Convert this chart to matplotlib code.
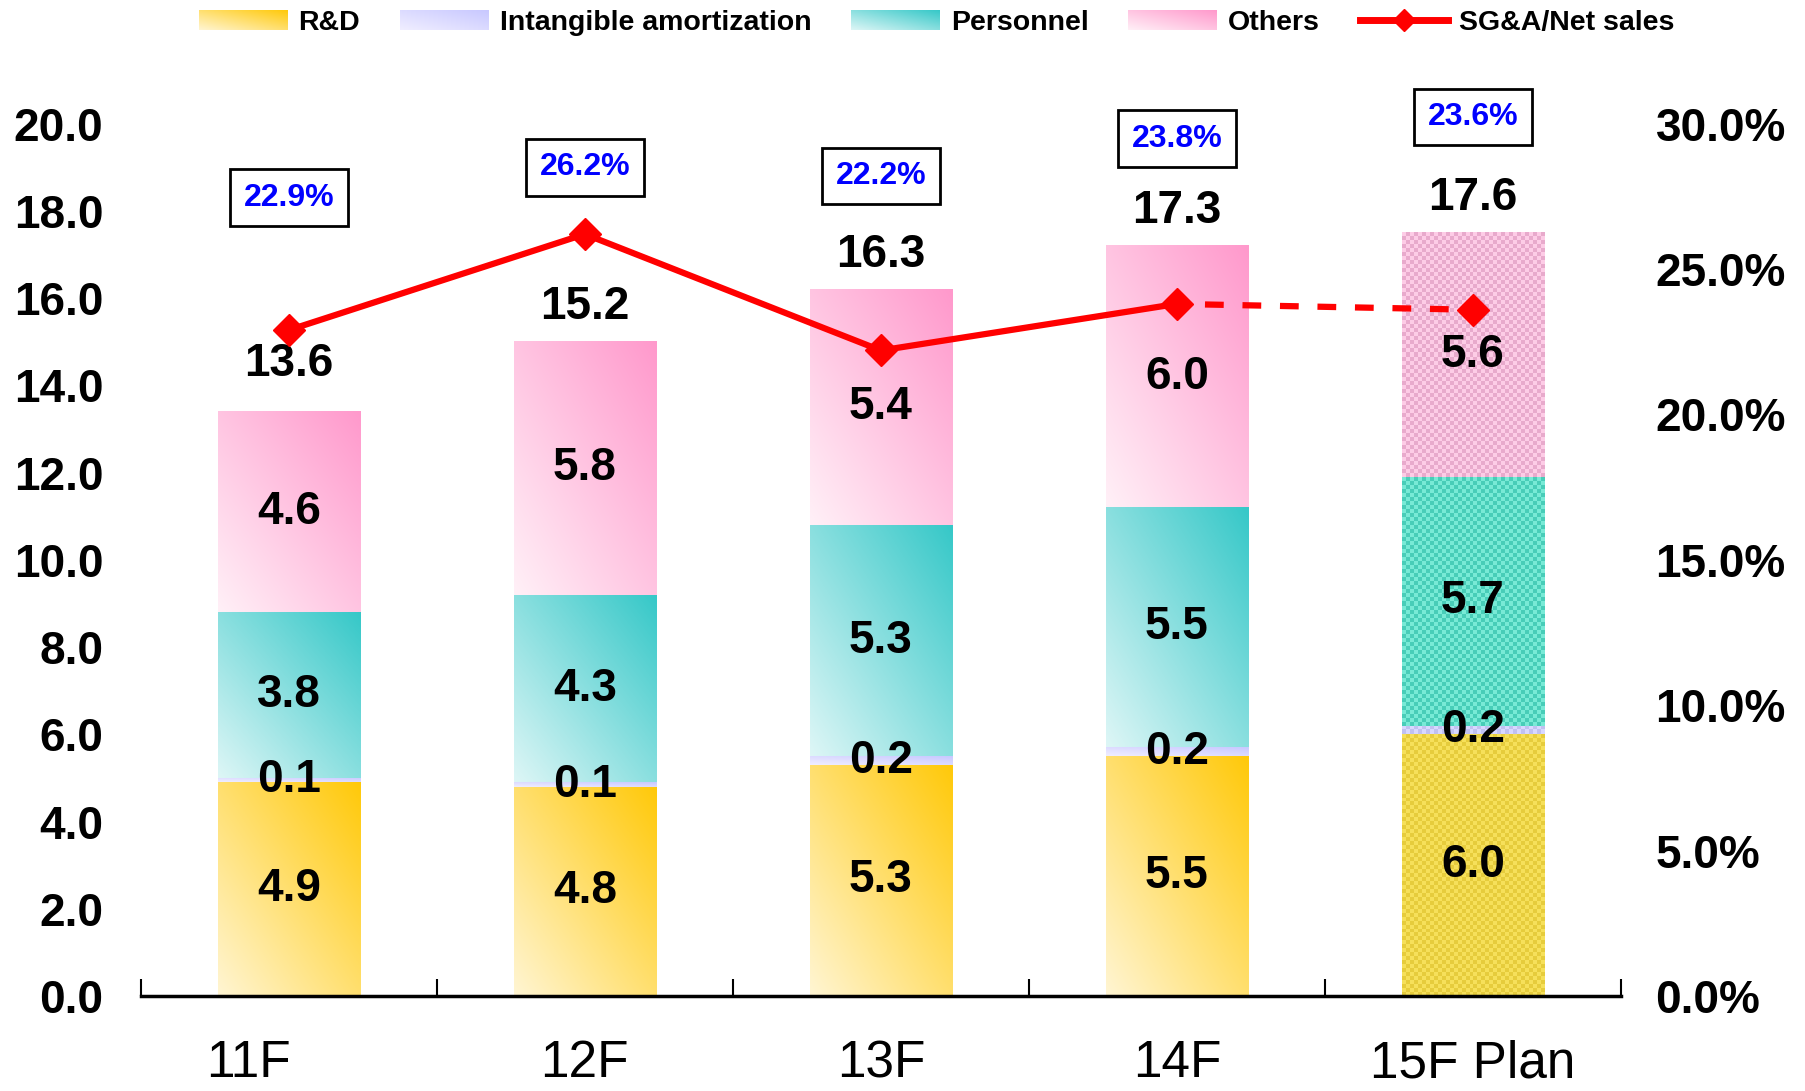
import numpy as np
import matplotlib
matplotlib.use('Agg')
import matplotlib.pyplot as plt
from matplotlib.colors import to_rgb
from matplotlib.legend_handler import HandlerBase
from matplotlib.image import BboxImage
from matplotlib.transforms import Bbox, TransformedBbox, ScaledTranslation
from matplotlib.lines import Line2D
from matplotlib.patches import Patch

plt.rcParams['font.family'] = ['Liberation Sans', 'DejaVu Sans']

# data (billion yen)
years = ['11F', '12F', '13F', '14F', '15F Plan']
rnd = [4.9, 4.8, 5.3, 5.5, 6.0]
intangible = [0.1, 0.1, 0.2, 0.2, 0.2]
personnel = [3.8, 4.3, 5.3, 5.5, 5.7]
others = [4.6, 5.8, 5.4, 6.0, 5.6]
totals = [13.6, 15.2, 16.3, 17.3, 17.6]
ratio = [22.9, 26.2, 22.2, 23.8, 23.6]
box_y = [18.3, 19.0, 18.8, 19.65, 20.15]   # where the % boxes sit (left axis units)

series = [('R&D', rnd, '#FFF5D2', '#FFC90A', '#F6E05A', '#E6CC3C'),
          ('Intangible amortization', intangible, '#F0EEFF', '#C8C8FF', '#D8D8FF', '#C0C0F0'),
          ('Personnel', personnel, '#DDF6F6', '#36C8C8', '#78EAD6', '#48CDB8'),
          ('Others', others, '#FFF0F7', '#FF99CC', '#FDCCE6', '#E8AACC')]


def gradient(c0, c1, n=64):
    u = np.linspace(0, 1, n)
    t = (u[None, :] + u[::-1][:, None]) / 2
    a, b = np.array(to_rgb(c0)), np.array(to_rgb(c1))
    return a + (b - a) * t[..., None]


def checker(c0, c1, nx, ny):
    iy, ix = np.indices((ny, nx))
    m = ((ix + iy) % 2)[..., None]
    a, b = np.array(to_rgb(c0)), np.array(to_rgb(c1))
    return a * (1 - m) + b * m


class GradHandler(HandlerBase):
    def __init__(self, img):
        super().__init__()
        self.img = img

    def create_artists(self, legend, orig_handle, xdescent, ydescent,
                       width, height, fontsize, trans):
        bb = Bbox.from_bounds(-xdescent, -ydescent, width, height)
        im = BboxImage(TransformedBbox(bb, trans), interpolation='bilinear')
        im.set_data(self.img)
        return [im]


fig = plt.figure(figsize=(18.05, 10.91), dpi=100)
ax = fig.add_axes([0.078, 0.087, 0.82, 0.7997])
ax2 = ax.twinx()

x = np.arange(len(years))
w = 0.48
bottom = np.zeros(len(years))
handles, hmap = [], {}
for name, vals, c0, c1, p0, p1 in series:
    bars = ax.bar(x, vals, w, bottom=bottom, color='none', edgecolor='none')
    for i, b in enumerate(bars):
        x0, y0 = b.get_x(), b.get_y()
        x1, y1 = x0 + b.get_width(), y0 + b.get_height()
        if i == len(years) - 1:
            img = checker(p0, p1, 36, max(1, int(b.get_height() * 11)))
            interp = 'nearest'
        else:
            img = gradient(c0, c1)
            interp = 'bilinear'
        ax.imshow(img, extent=[x0, x1, y0, y1], aspect='auto',
                  interpolation=interp, zorder=1)
        ax.text(x[i], y0 + b.get_height() / 2, f'{vals[i]:.1f}',
                ha='center', va='center', fontsize=33, fontweight='bold', zorder=5)
    bottom += np.array(vals)
    h = Patch(label=name)
    handles.append(h)
    hmap[h] = GradHandler(gradient(c0, c1))

# totals above bars, ratio boxes
for i in range(len(years)):
    off = 34 if i == 0 else 25
    ax.annotate(f'{totals[i]:.1f}', (x[i], bottom[i]), xytext=(0, off),
                textcoords='offset points', ha='center', va='center',
                fontsize=33, fontweight='bold', zorder=5, annotation_clip=False)
    ax.text(x[i], box_y[i], f'{ratio[i]:.1f}%', ha='center', va='center',
            fontsize=23, fontweight='bold', color='#0000FF', clip_on=False,
            bbox=dict(boxstyle='square,pad=0.42', fc='white', ec='black', lw=2))

ax.set_xlim(-0.5, len(years) - 0.5)
ax.set_ylim(0, 20)
ax.set_yticks(np.arange(0, 20.1, 2))
ax.set_yticklabels([f'{v:.1f}' for v in np.arange(0, 20.1, 2)])
ax.set_xticks(x)
ax.set_xticklabels(years)
ax.set_xticks(np.arange(-0.5, len(years)), minor=True)
ax.tick_params(axis='x', which='major', length=0, pad=31, labelsize=37)
ax.tick_params(axis='x', which='minor', direction='in', length=12, width=1.5)
ax.tick_params(axis='y', length=0, pad=27, labelsize=33)
# first category label sits a bit left of its bar in the original
first = ax.get_xticklabels()[0]
first.set_transform(first.get_transform() + ScaledTranslation(-0.40, 0, fig.dpi_scale_trans))
for lab in ax.get_yticklabels():
    lab.set_fontweight('bold')
for s in ['left', 'right', 'top']:
    ax.spines[s].set_visible(False)
ax.spines['bottom'].set_linewidth(2.5)

# SG&A / net sales ratio
ax2.plot(x[:-1], ratio[:-1], color='#FF0000', lw=4.5, marker='D', ms=16, zorder=6)
ax2.plot(x[-2:], ratio[-2:], color='#FF0000', lw=4.5, ls=(1.5, (3.0, 3.0)),
         marker='D', ms=16, markevery=[1], zorder=6)
ax2.set_ylim(0, 30)
ax2.set_yticks(np.arange(0, 30.1, 5))
ax2.set_yticklabels([f'{v:.1f}%' for v in np.arange(0, 30.1, 5)])
ax2.tick_params(axis='y', length=0, pad=25, labelsize=33)
for lab in ax2.get_yticklabels():
    lab.set_fontweight('bold')
for s in ['left', 'right', 'top', 'bottom']:
    ax2.spines[s].set_visible(False)

line_h = Line2D([], [], color='#FF0000', lw=5, marker='D', ms=11, label='SG&A/Net sales')
handles.append(line_h)
fig.legend(handles=handles, handler_map=hmap, loc='center', bbox_to_anchor=(0.519, 0.979),
           ncol=5, frameon=False, prop={'size': 20.5, 'weight': 'bold'},
           handlelength=3.1, handleheight=0.7, handletextpad=0.4, columnspacing=1.4)

fig.savefig('out.png', dpi=100)
